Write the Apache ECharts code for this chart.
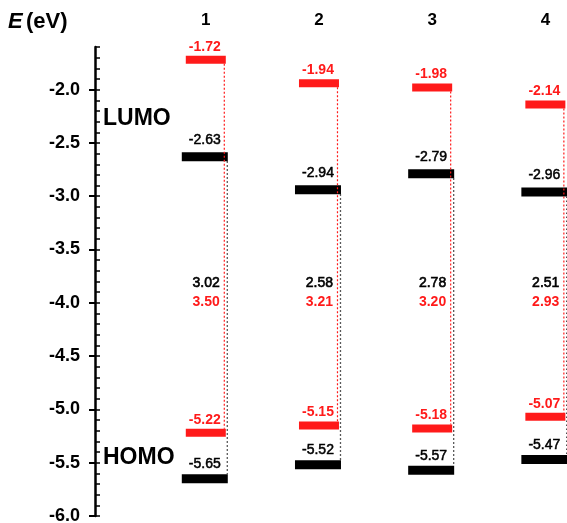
<!DOCTYPE html>
<html>
<head>
<meta charset="utf-8">
<script src="https://cdn.jsdelivr.net/npm/echarts@6/dist/echarts.min.js"></script>
<style>
html,body{margin:0;padding:0;background:#fff;}
#chart{width:567px;height:523px;}
</style>
</head>
<body>
<div id="chart"></div>
<script>
// ---- data ----
const columns = ['1', '2', '3', '4'];
const lumoBlack = [-2.63, -2.94, -2.79, -2.96];
const homoBlack = [-5.65, -5.52, -5.57, -5.47];
const lumoRed = [-1.72, -1.94, -1.98, -2.14];
const homoRed = [-5.22, -5.15, -5.18, -5.07];
const gapBlack = [3.02, 2.58, 2.78, 2.51];
const gapRed = [3.50, 3.21, 3.20, 2.93];
const yMin = -6.0, yMax = -1.6, yStep = 0.5, yMinorStep = 0.1;

const RED = '#ff1a1a';
const FONT = 'Liberation Sans, Arial, sans-serif';

const chart = echarts.init(document.getElementById('chart'), null, {renderer: 'canvas'});

const seriesData = columns.map((c, i) => [i + 1, lumoBlack[i], homoBlack[i], lumoRed[i], homoRed[i], gapBlack[i], gapRed[i]]);

function renderItem(params, api) {
  const i = api.value(0);
  const cx = api.coord([i, -4])[0];
  const yLB = api.coord([i, api.value(1)])[1];
  const yHB = api.coord([i, api.value(2)])[1];
  const yLR = api.coord([i, api.value(3)])[1];
  const yHR = api.coord([i, api.value(4)])[1];
  const yGB = api.coord([i, -3.82])[1];
  const yGR = api.coord([i, -3.99])[1];
  const bw = 46, bh = 9, rw = 40, rh = 8;
  const children = [];
  [yLB, yHB].forEach(y => children.push({
    type: 'rect', shape: {x: cx - bw / 2, y: y - bh / 2, width: bw, height: bh},
    style: {fill: '#000'}
  }));
  [yLR, yHR].forEach(y => children.push({
    type: 'rect', shape: {x: cx - rw / 2 + 1, y: y - rh / 2, width: rw, height: rh},
    style: {fill: RED}
  }));
  children.push({
    type: 'line', shape: {x1: cx + 22.5, y1: yLB + bh / 2, x2: cx + 22.5, y2: yHB - bh / 2},
    style: {stroke: '#222', lineWidth: 1.3, lineDash: [1.5, 2.5]}
  });
  children.push({
    type: 'line', shape: {x1: cx + 19.5, y1: yLR + rh / 2, x2: cx + 19.5, y2: yHR - rh / 2},
    style: {stroke: RED, lineWidth: 1.2, lineDash: [2, 2]}
  });
  const lab = (y, v, color, bold, gap) => children.push({
    type: 'text',
    style: {x: cx, y: y - gap, text: v.toFixed(2), fill: color,
      font: (bold ? 'bold' : 'normal') + ' 14px ' + FONT,
      stroke: bold ? null : '#000', lineWidth: bold ? 0 : 0.5,
      textAlign: 'center', textVerticalAlign: 'bottom'}
  });
  lab(yLB - bh / 2, api.value(1), '#000', false, 5);
  lab(yHB - bh / 2, api.value(2), '#000', false, 3);
  lab(yLR - rh / 2, api.value(3), RED, true, 2);
  lab(yHR - rh / 2, api.value(4), RED, true, 2);
  children.push({type: 'text', style: {x: cx + 15, y: yGB, text: api.value(5).toFixed(2), fill: '#000',
    font: 'normal 14px ' + FONT, stroke: '#000', lineWidth: 0.6, textAlign: 'right', textVerticalAlign: 'middle'}});
  children.push({type: 'text', style: {x: cx + 15, y: yGR, text: api.value(6).toFixed(2), fill: RED,
    font: 'bold 14px ' + FONT, textAlign: 'right', textVerticalAlign: 'middle'}});
  children.push({type: 'text', style: {x: cx + 1, y: 20, text: columns[params.dataIndex], fill: '#000',
    font: 'bold 17px ' + FONT, textAlign: 'center', textVerticalAlign: 'middle'}});
  return {type: 'group', children: children};
}

const option = {
  backgroundColor: '#fff',
  animation: false,
  grid: {left: 95, top: 47, right: 0, bottom: 7, containLabel: false, outerBoundsMode: 'none'},
  xAxis: {type: 'value', min: 0.03, max: 4.2, show: false},
  yAxis: [{
    type: 'value', position: 'left', min: yMin, max: yMax, interval: yStep,
    axisLine: {show: true, lineStyle: {color: '#000', width: 2.5}},
    axisTick: {show: true, inside: false, length: 6, lineStyle: {color: '#000', width: 2}},
    axisLabel: {show: true, showMaxLabel: false, margin: 15, color: '#000', fontWeight: 'bold', fontSize: 18,
      fontFamily: FONT, formatter: v => v.toFixed(1)},
    splitLine: {show: false}
  }, {
    type: 'value', position: 'left', min: yMin, max: yMax, interval: yMinorStep,
    axisLine: {show: false},
    axisTick: {show: true, inside: true, length: 5, lineStyle: {color: '#000', width: 1.5}},
    axisLabel: {show: false},
    splitLine: {show: false}
  }],
  graphic: [
    {type: 'text', left: 8, top: 11, style: {
      text: '{i|E} {n|(eV)}', rich: {
        i: {font: 'italic bold 22px ' + FONT, fill: '#000'},
        n: {font: 'bold 22px ' + FONT, fill: '#000'}
      }}},
    {type: 'text', left: 103, top: 107, style: {text: 'LUMO', font: 'bold 23px ' + FONT, fill: '#000'}},
    {type: 'text', left: 103, top: 446, style: {text: 'HOMO', font: 'bold 23px ' + FONT, fill: '#000'}}
  ],
  series: [{
    type: 'custom', renderItem: renderItem, data: seriesData, clip: false,
    xAxisIndex: 0, yAxisIndex: 0
  }]
};
chart.setOption(option);
</script>
</body>
</html>
